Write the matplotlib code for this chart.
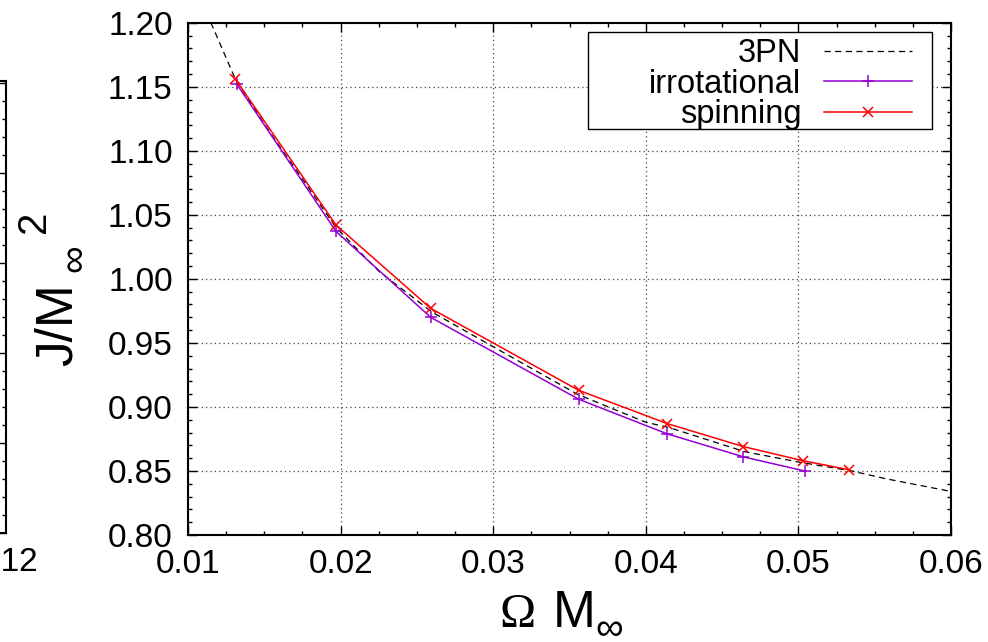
import numpy as np
import matplotlib
matplotlib.use("Agg")
import matplotlib.pyplot as plt
import matplotlib.patches as patches
from matplotlib.ticker import MultipleLocator, FormatStrFormatter

plt.rcParams['font.family'] = ['Liberation Sans', 'DejaVu Sans']

# valores
omega_3pn = [0.0115, 0.0131, 0.0150, 0.0162, 0.0175, 0.0197, 0.0225, 0.0260,
             0.0300, 0.0355, 0.0400, 0.0415, 0.0465, 0.0500, 0.0535, 0.0557, 0.0600]
j_3pn = [1.200, 1.156, 1.121, 1.100, 1.078, 1.040, 1.006, 0.974,
         0.947, 0.910, 0.888, 0.884, 0.865, 0.857, 0.850, 0.844, 0.834]

omega_irrot = [0.0132, 0.0197, 0.0259, 0.0356, 0.0414, 0.0464, 0.0504]
j_irrot = [1.152, 1.037, 0.970, 0.906, 0.879, 0.861, 0.850]

omega_spin = [0.0131, 0.0197, 0.0259, 0.0356, 0.0414, 0.0464, 0.0503, 0.0533]
j_spin = [1.156, 1.042, 0.977, 0.913, 0.887, 0.869, 0.858, 0.851]

W, H = 988, 642
fig = plt.figure(figsize=(9.88, 6.42), dpi=100)

# trozo del panel vecino que asoma por la izquierda
left = fig.add_axes([-0.5, 1 - 533 / H, 0.5 + 6 / W, (533 - 81) / H])
left.set_xlim(0, 0.12)
left.set_ylim(0, 452 / 90)
left.yaxis.set_major_locator(MultipleLocator(1))
left.yaxis.set_minor_locator(MultipleLocator(0.2))
left.set_yticklabels([])
left.set_xticks([0.12])
left.set_xticklabels(['0.12'], fontsize=24)
left.tick_params(which='both', direction='in', left=False, right=True, top=False, bottom=False,
                 labelleft=False, pad=10)
left.tick_params(which='major', length=6.5, width=1)
left.tick_params(which='minor', length=3.2, width=1)
for s in left.spines.values():
    s.set_linewidth(1.5)

# panel principal
ax = fig.add_axes([188 / W, 1 - 535 / H, (951 - 188) / W, (535 - 22.7) / H])

ax.plot(omega_3pn, j_3pn, color='black', lw=0.9, ls=(0, (5, 3.5)), label='3PN', zorder=3)
ax.plot(omega_irrot, j_irrot, color='#9400d3', lw=1.1, marker='+', ms=8, mew=1.1,
        label='irrotational', zorder=4)
ax.plot(omega_spin, j_spin, color='#ff0000', lw=1.1, marker='x', ms=7, mew=1.1,
        label='spinning', zorder=5)

ax.set_xlim(0.01, 0.06)
ax.set_ylim(0.80, 1.20)
ax.xaxis.set_major_locator(MultipleLocator(0.01))
ax.xaxis.set_minor_locator(MultipleLocator(0.0025))
ax.yaxis.set_major_locator(MultipleLocator(0.05))
ax.yaxis.set_minor_locator(MultipleLocator(0.01))
ax.xaxis.set_major_formatter(FormatStrFormatter('%.2f'))
ax.yaxis.set_major_formatter(FormatStrFormatter('%.2f'))
ax.tick_params(which='both', direction='in', top=True, right=True, labelsize=24)
ax.tick_params(which='major', length=6.5, width=1)
ax.tick_params(which='minor', length=3.2, width=1)
ax.tick_params(axis='x', pad=10)
ax.tick_params(axis='y', pad=11)
for s in ax.spines.values():
    s.set_linewidth(1.5)
ax.grid(True, which='major', color='#444444', ls=(0, (1, 2.5)), lw=0.9)

# leyenda estilo gnuplot: texto a la derecha, muestra despues, caja ancha
leg = ax.legend(loc='upper right', bbox_to_anchor=(912 / W, 1 - 38.5 / H),
                bbox_transform=fig.transFigure, borderaxespad=0, fontsize=23.5,
                markerfirst=False, handlelength=2.7, handletextpad=0.69,
                labelspacing=-0.02, borderpad=0, frameon=False)
for t in leg.get_texts():
    t.set_ha('right')
leg._legend_box.align = 'right'
box = patches.Rectangle((588 / W, 1 - 129 / H), (932 - 588) / W, (129 - 31.7) / H,
                        transform=fig.transFigure, fill=True, facecolor='white',
                        edgecolor='black', lw=1.0, zorder=6)
ax.add_artist(box)
leg.set_zorder(7)

# etiquetas de los ejes, por trozos como en gnuplot
fig.text(499 / W, 1 - 627 / H, 'Ω', family='Liberation Serif', fontsize=35, ha='left', va='baseline')
fig.text(553 / W, 1 - 627 / H, 'M', fontsize=37, ha='left', va='baseline')
fig.text(595 / W, 1 - 639.5 / H, '∞', fontsize=28, ha='left', va='baseline')

fig.text(72 / W, 1 - 366 / H, 'J/M', fontsize=37, rotation=90, rotation_mode='anchor',
         ha='left', va='baseline')
fig.text(85 / W, 1 - 272 / H, '∞', fontsize=28, rotation=90, rotation_mode='anchor',
         ha='left', va='baseline')
fig.text(45 / W, 1 - 233 / H, '2', fontsize=29, rotation=90, rotation_mode='anchor',
         ha='left', va='baseline')

fig.savefig('out.png', dpi=100)
